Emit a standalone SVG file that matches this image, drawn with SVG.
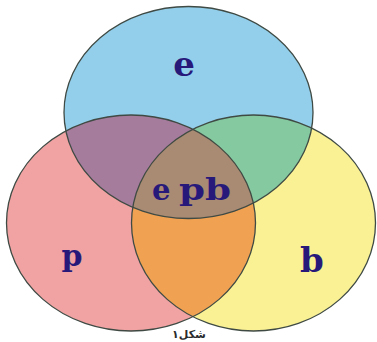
<svg xmlns="http://www.w3.org/2000/svg" width="377" height="342" viewBox="0 0 377 342">
  <style>
    .outline { fill: none; stroke: #3f4a44; stroke-width: 1.3; }
    .lbl { font-family: "DejaVu Serif", "Liberation Serif", serif; font-weight: bold; fill: #27197a; text-anchor: middle; }
    .cap { font-family: "DejaVu Sans", "Noto Sans", sans-serif; font-size: 11px; font-weight: bold; fill: #2a2a2a; text-anchor: middle; }
  </style>
  <defs>
    <ellipse id="shape-e" cx="188.5" cy="112.5" rx="124.5" ry="106"/>
    <ellipse id="shape-p" cx="131" cy="223" rx="124.5" ry="108"/>
    <ellipse id="shape-b" cx="253.5" cy="223" rx="122" ry="108"/>
    <clipPath id="clip-e"><use href="#shape-e"/></clipPath>
    <clipPath id="clip-p"><use href="#shape-p"/></clipPath>
  </defs>

  <rect width="377" height="342" fill="#ffffff"/>

  <!-- set e -->
  <g id="node-e">
    <use href="#shape-e" fill="#93cfeb"/>
  </g>
  <!-- set p -->
  <g id="node-p">
    <use href="#shape-p" fill="#f0a3a2"/>
  </g>
  <!-- set b -->
  <g id="node-b">
    <use href="#shape-b" fill="#f9f193"/>
  </g>

  <!-- pairwise and triple overlaps -->
  <g id="overlaps">
    <use href="#shape-p" fill="#a67c9c" clip-path="url(#clip-e)"/>
    <use href="#shape-b" fill="#84c9a0" clip-path="url(#clip-e)"/>
    <use href="#shape-b" fill="#f0a152" clip-path="url(#clip-p)"/>
    <g clip-path="url(#clip-e)">
      <use href="#shape-b" fill="#a98a72" clip-path="url(#clip-p)"/>
    </g>
  </g>

  <!-- outlines on top -->
  <g id="outlines">
    <use href="#shape-e" class="outline"/>
    <use href="#shape-p" class="outline"/>
    <use href="#shape-b" class="outline"/>
  </g>

  <g id="labels">
    <text class="lbl" x="184" y="76" font-size="34">e</text>
    <text class="lbl" x="72" y="266" font-size="30">p</text>
    <text class="lbl" x="312" y="272" font-size="34">b</text>
    <text id="node-epb" class="lbl" y="200" font-size="29" style="text-anchor:start"><tspan x="152">e </tspan><tspan x="179" textLength="52" lengthAdjust="spacingAndGlyphs">pb</tspan></text>
  </g>

  <text class="cap" x="189" y="338">شکل۱</text>
</svg>
